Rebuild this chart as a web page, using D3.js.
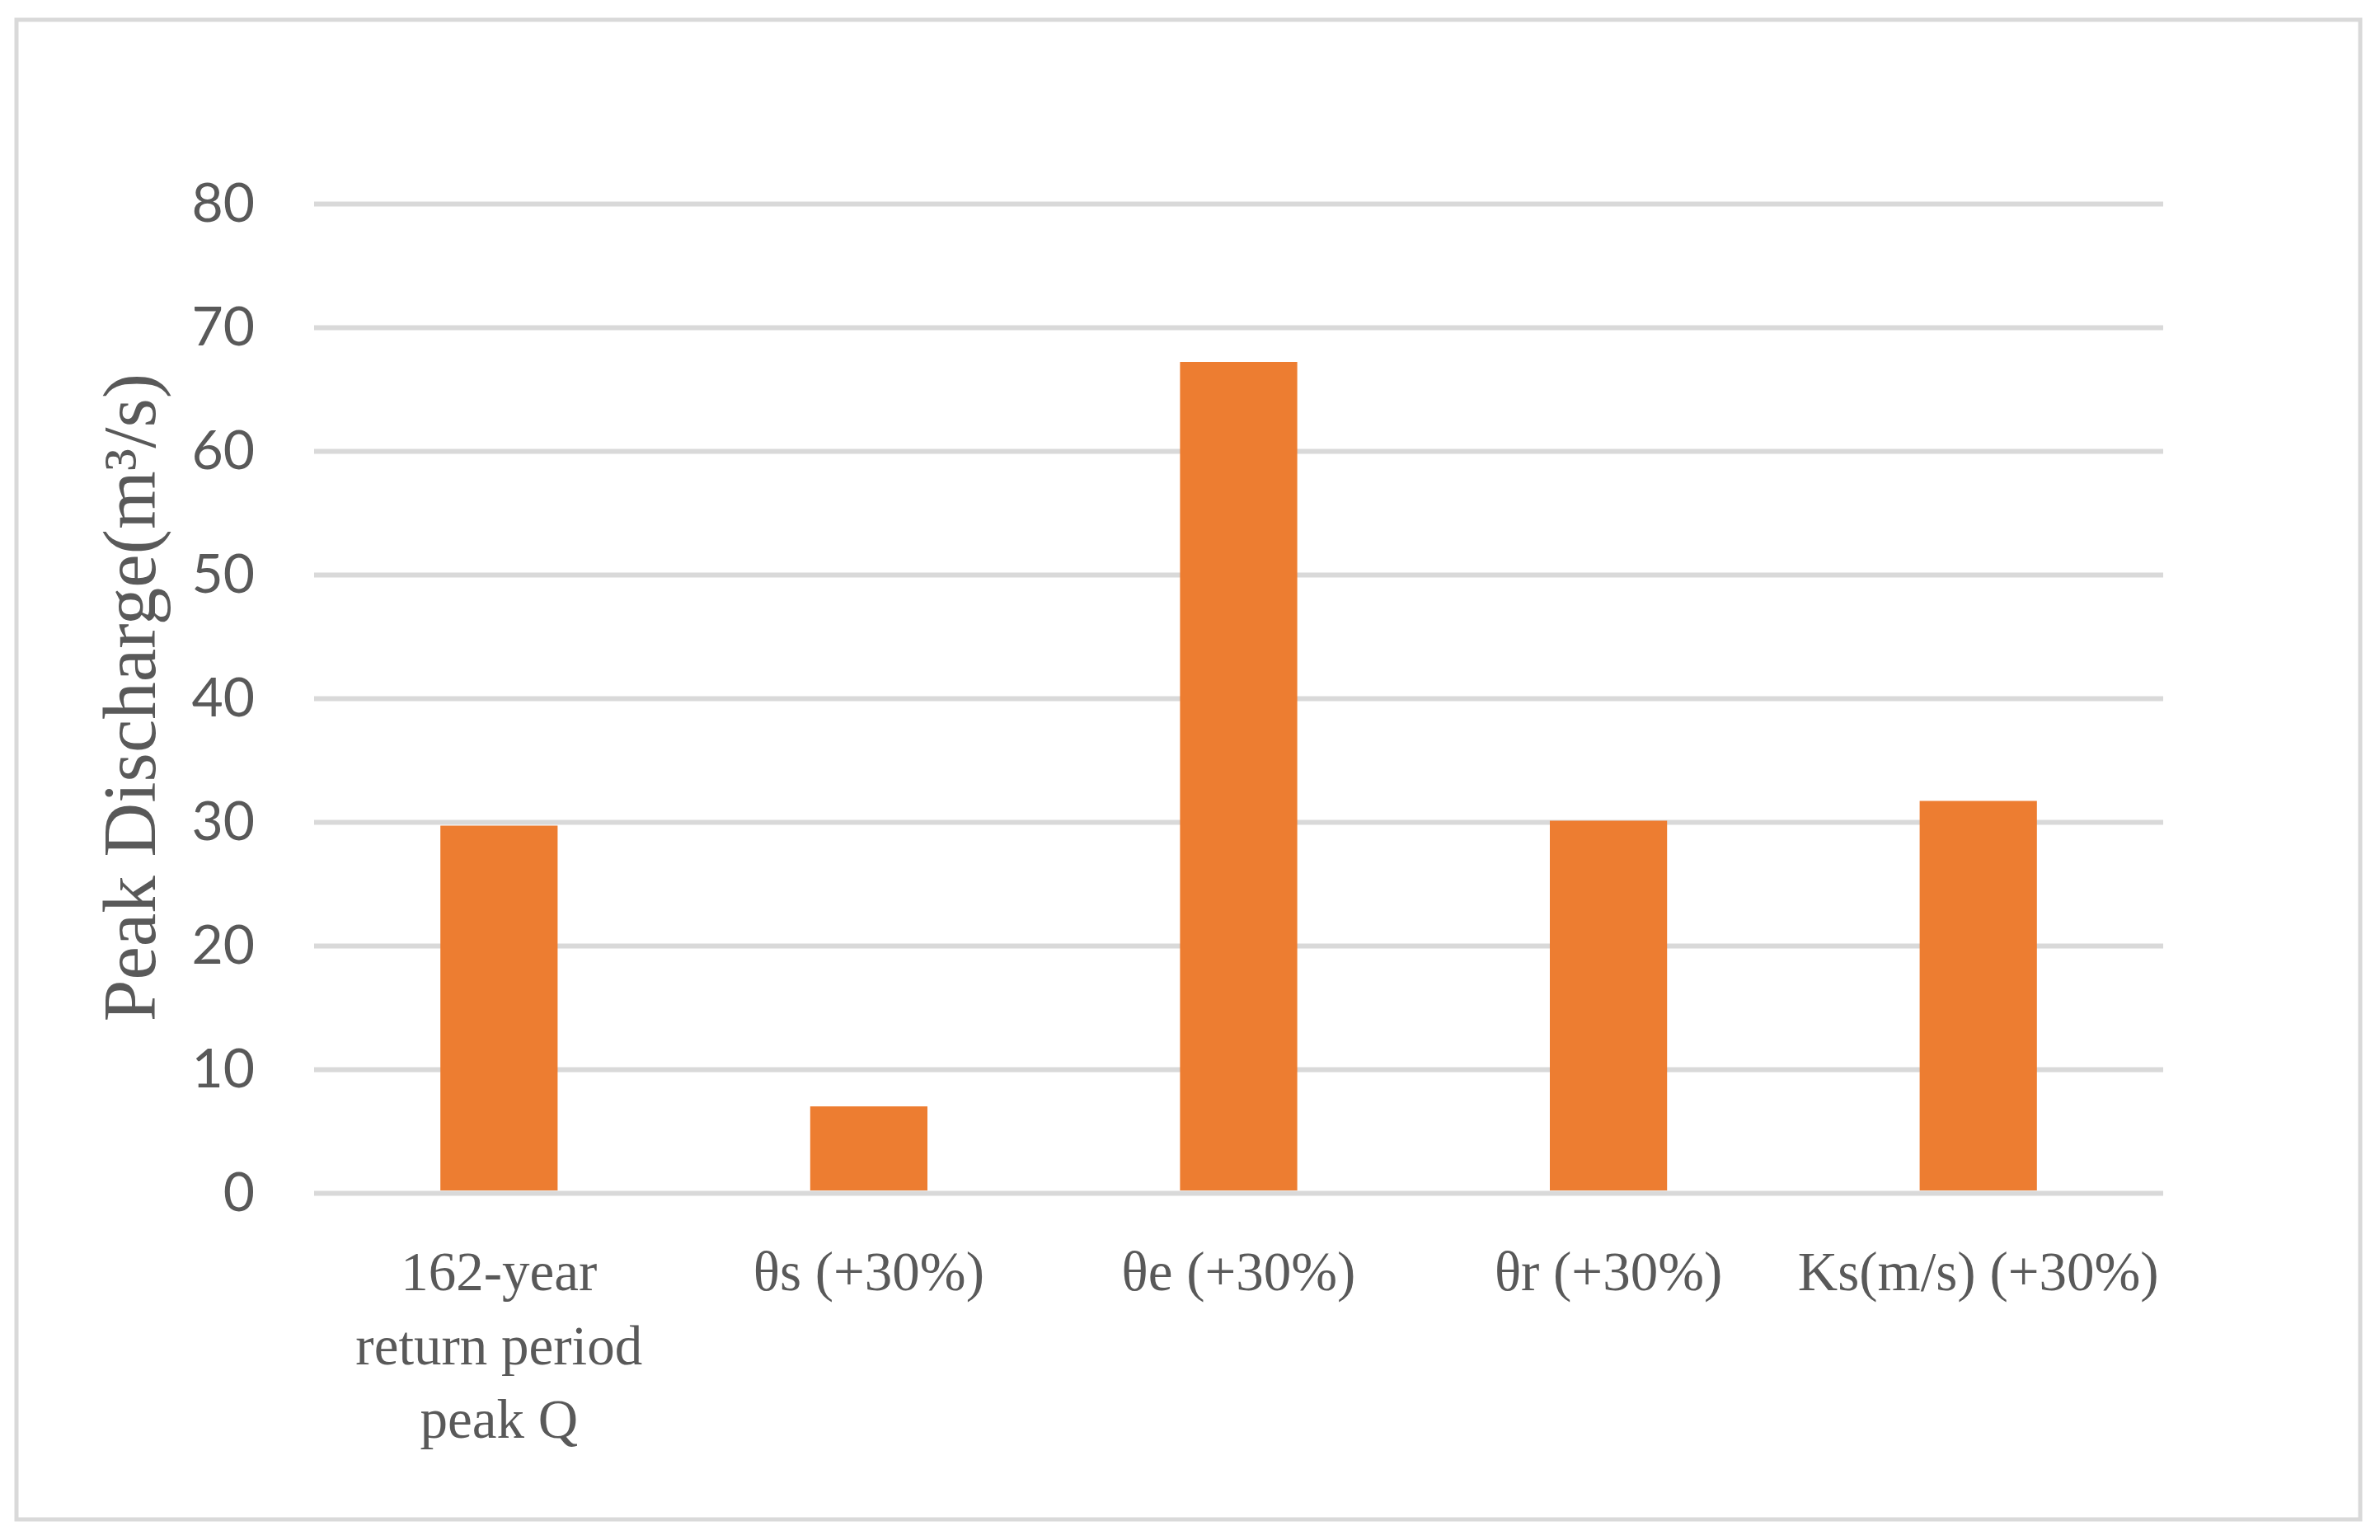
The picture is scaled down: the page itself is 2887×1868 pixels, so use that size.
<!DOCTYPE html>
<html>
<head>
<meta charset="utf-8">
<script src="https://cdn.jsdelivr.net/npm/d3@7"></script>
<style>
  html, body { margin: 0; padding: 0; background: #ffffff; }
  svg { display: block; }
</style>
</head>
<body>
<script>
// ---- Data ----
const categories = ["162-year return period peak Q", "θs (+30%)", "θe (+30%)", "θr (+30%)", "Ks(m/s) (+30%)"];
const categoryLines = [["162-year", "return period", "peak Q"], ["θs (+30%)"], ["θe (+30%)"], ["θr (+30%)"], ["Ks(m/s) (+30%)"]];
const peakDischarge = [29.7, 7.0, 67.2, 30.1, 31.7];
const yTicks = [0, 10, 20, 30, 40, 50, 60, 70, 80];
const yTitle = "Peak Discharge(m³/s)";

// ---- Layout ----
const W = 2887, H = 1868;
const plotLeft = 381, plotRight = 2624, plotTop = 247, plotBottom = 1447;
const textColor = "#595959";
const gridColor = "#d9d9d9";
const barColor = "#ED7D31";

const svg = d3.select("body").append("svg").attr("width", W).attr("height", H);

svg.append("rect").attr("x", 0).attr("y", 0).attr("width", W).attr("height", H).attr("fill", "#fff");
// outer frame
svg.append("rect")
  .attr("x", 20).attr("y", 24).attr("width", 2843).attr("height", 1819)
  .attr("fill", "none").attr("stroke", gridColor).attr("stroke-width", 5);

const x = d3.scaleBand().domain(categories).range([plotLeft, plotRight]).padding(0);
const y = d3.scaleLinear().domain([0, 80]).range([plotBottom, plotTop]);

// y axis with gridlines
const yAxis = d3.axisLeft(y).tickValues(yTicks).tickSize(-(plotRight - plotLeft)).tickPadding(72).tickFormat(d3.format("d"));
const gy = svg.append("g").attr("transform", `translate(${plotLeft},0)`).call(yAxis);
gy.select(".domain").remove();
gy.selectAll(".tick line").attr("stroke", gridColor).attr("stroke-width", 6);
gy.selectAll(".tick text")
  .attr("fill", textColor)
  .style("font-family", "Lato, 'Open Sans', sans-serif")
  .style("font-size", "66px");

// bars
const barW = x.bandwidth() * 0.317;
svg.append("g").selectAll("rect")
  .data(categories)
  .join("rect")
  .attr("x", (d) => x(d) + (x.bandwidth() - barW) / 2)
  .attr("width", barW)
  .attr("y", (d, i) => y(peakDischarge[i]))
  .attr("height", (d, i) => y(0) - y(peakDischarge[i]) - 3)
  .attr("fill", barColor);

// x labels
const xl = svg.append("g");
categories.forEach((c, i) => {
  const t = xl.append("text")
    .attr("x", x(c) + x.bandwidth() / 2)
    .attr("y", 1565)
    .attr("text-anchor", "middle")
    .attr("fill", textColor)
    .style("font-family", "'Liberation Serif', 'Times New Roman', serif")
    .style("font-size", "67px");
  categoryLines[i].forEach((line, j) => {
    t.append("tspan")
      .attr("x", x(c) + x.bandwidth() / 2)
      .attr("y", 1565 + j * 89.5)
      .text(line);
  });
});

// y title
svg.append("text")
  .attr("transform", "translate(188,846) rotate(-90)")
  .attr("text-anchor", "middle")
  .attr("fill", textColor)
  .style("font-family", "'Liberation Serif', 'Times New Roman', serif")
  .style("font-size", "91px")
  .text(yTitle);
</script>
</body>
</html>
